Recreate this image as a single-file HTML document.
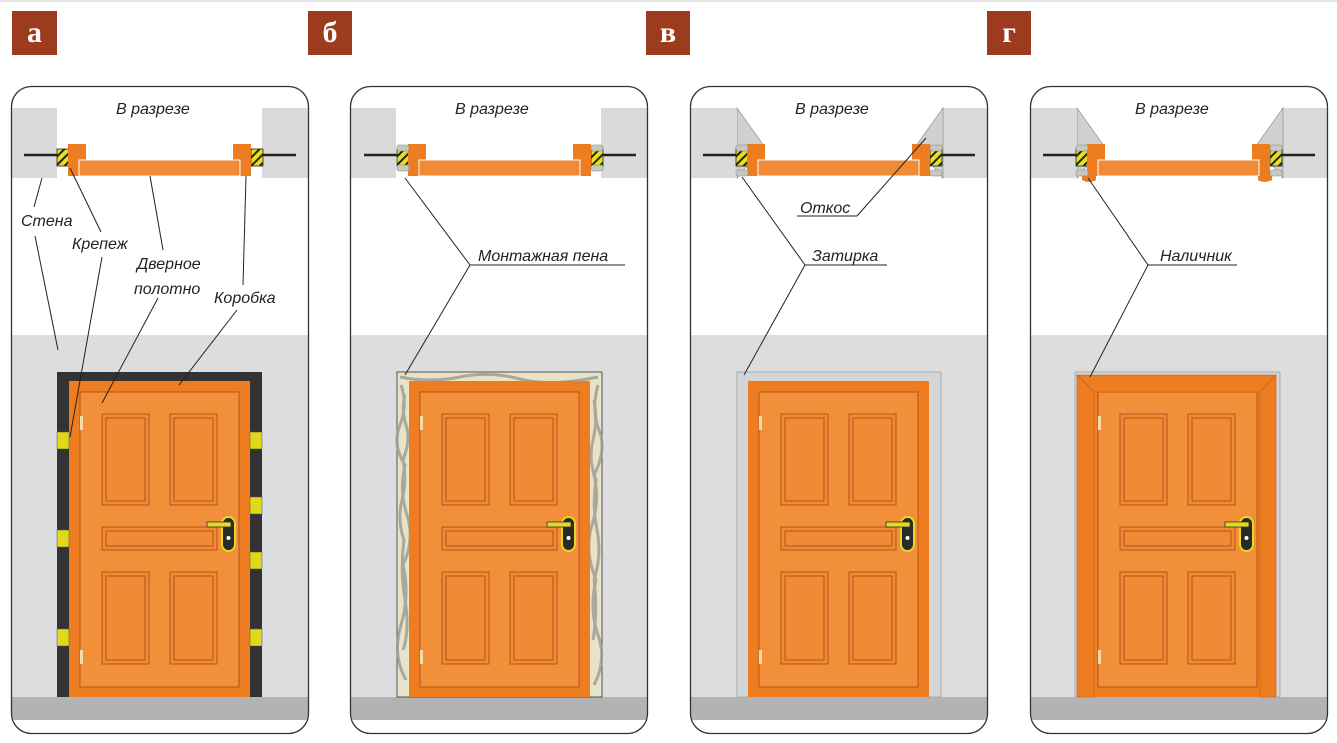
<!DOCTYPE html>
<html><head><meta charset="utf-8"><style>
html,body{margin:0;padding:0;background:#fff;}
svg{display:block;}
text{font-family:"Liberation Sans",sans-serif;font-style:italic;font-size:16px;fill:#222;}
.bd{font-family:"Liberation Serif",serif;font-style:normal;font-weight:bold;font-size:30px;fill:#fff;}
</style></head><body>
<svg width="1337" height="743" viewBox="0 0 1337 743" xmlns="http://www.w3.org/2000/svg">
<defs>
<pattern id="hatch" width="6" height="6" patternUnits="userSpaceOnUse" patternTransform="rotate(45)">
<rect width="6" height="6" fill="#e8e01a"/><rect width="2" height="6" fill="#222"/>
</pattern>
<clipPath id="pc"><rect x="12" y="87" width="296" height="646" rx="20"/></clipPath>
<g id="base">
<g clip-path="url(#pc)">
<rect x="12" y="87" width="296" height="646" fill="#fff"/>
<rect x="12" y="108" width="45" height="70" fill="#dadada"/>
<rect x="262" y="108" width="46" height="70" fill="#dadada"/>
<rect x="12" y="335" width="296" height="362" fill="#dcdddf"/>
<rect x="12" y="697" width="296" height="23" fill="#b1b3b5"/>
</g>
<rect x="11.5" y="86.5" width="297" height="647" rx="20" fill="none" stroke="#333" stroke-width="1.3"/>
<text x="116" y="114">В разрезе</text>
</g>
<g id="door">
<rect x="69" y="381" width="181" height="316" fill="#ee7d22"/>
<rect x="80" y="392" width="159" height="295" fill="#f29039" stroke="#b5521a" stroke-width="1"/>
<g fill="#f08a35" stroke="#b5521a" stroke-width="1">
<rect x="102" y="414" width="47" height="91"/><rect x="106" y="418" width="39" height="83"/>
<rect x="170" y="414" width="47" height="91"/><rect x="174" y="418" width="39" height="83"/>
<rect x="102" y="527" width="115" height="23"/><rect x="106" y="531" width="107" height="15"/>
<rect x="102" y="572" width="47" height="92"/><rect x="106" y="576" width="39" height="84"/>
<rect x="170" y="572" width="47" height="92"/><rect x="174" y="576" width="39" height="84"/>
</g>
<rect x="80" y="416" width="3" height="14" fill="#f5dca8"/>
<rect x="80" y="650" width="3" height="14" fill="#f5dca8"/>
<rect x="222" y="517" width="13" height="34" rx="6.5" fill="#2a2a2a" stroke="#e8d820" stroke-width="2"/>
<rect x="207" y="522" width="24" height="5" fill="#e8d820" stroke="#333" stroke-width="0.8"/>
<circle cx="228.5" cy="538" r="2" fill="#fff"/>
</g>
<g id="sec">
<line x1="24" y1="155" x2="58" y2="155" stroke="#222" stroke-width="2.5"/>
<line x1="262" y1="155" x2="296" y2="155" stroke="#222" stroke-width="2.5"/>
<rect x="57" y="149" width="12" height="17" fill="url(#hatch)" stroke="#222" stroke-width="0.8"/>
<rect x="251" y="149" width="12" height="17" fill="url(#hatch)" stroke="#222" stroke-width="0.8"/>
<rect x="68" y="144" width="18" height="32" fill="#ee7d22"/>
<rect x="233" y="144" width="18" height="32" fill="#ee7d22"/>
<rect x="79" y="160" width="161" height="16" fill="#f08a35" stroke="#fff" stroke-width="1"/>
</g>
<g id="slope">
<polygon points="737,108 764,146 737,178" fill="#d0d0d0" stroke="#999" stroke-width="0.8"/>
<polygon points="943,108 916,146 943,178" fill="#d0d0d0" stroke="#999" stroke-width="0.8"/>
</g>
</defs>
<line x1="0" y1="1" x2="1337" y2="1" stroke="#e6e6e6" stroke-width="2"/>

<!-- badges -->
<rect x="12" y="11" width="45" height="44" fill="#9c3b1e"/><text class="bd" x="34.5" y="42" text-anchor="middle">а</text>
<rect x="308" y="11" width="44" height="44" fill="#9c3b1e"/><text class="bd" x="330" y="42" text-anchor="middle">б</text>
<rect x="646" y="11" width="44" height="44" fill="#9c3b1e"/><text class="bd" x="668" y="42" text-anchor="middle">в</text>
<rect x="987" y="11" width="44" height="44" fill="#9c3b1e"/><text class="bd" x="1009" y="42" text-anchor="middle">г</text>

<!-- Panel a -->
<use href="#base"/>
<rect x="57" y="372" width="205" height="325" fill="#333"/>
<use href="#door"/>
<g fill="#e0d818" stroke="#555" stroke-width="0.5">
<rect x="57" y="432" width="12" height="17"/><rect x="57" y="530" width="12" height="17"/><rect x="57" y="629" width="12" height="17"/>
<rect x="250" y="432" width="12" height="17"/><rect x="250" y="497" width="12" height="17"/><rect x="250" y="552" width="12" height="17"/><rect x="250" y="629" width="12" height="17"/>
</g>
<use href="#sec"/>
<text x="21" y="226">Стена</text>
<text x="72" y="249">Крепеж</text>
<text x="137" y="269">Дверное</text>
<text x="134" y="294">полотно</text>
<text x="214" y="303">Коробка</text>
<g stroke="#222" stroke-width="1" fill="none">
<line x1="42" y1="178" x2="34" y2="207"/><line x1="35" y1="236" x2="58" y2="350"/>
<line x1="70" y1="168" x2="101" y2="232"/><line x1="102" y1="257" x2="70" y2="437"/>
<line x1="150" y1="176" x2="163" y2="250"/><line x1="158" y1="298" x2="102" y2="403"/>
<line x1="246" y1="176" x2="243" y2="285"/><line x1="237" y1="310" x2="179" y2="385"/>
</g>

<!-- Panel б -->
<use href="#base" x="339"/>
<rect x="397" y="372" width="205" height="325" fill="#e6e3c8" stroke="#333" stroke-width="0.8"/>
<g stroke="#9a9a90" stroke-width="3" fill="none" opacity="0.8">
<path d="M401,385 q7,20 -1,40 t5,40 q-6,25 2,50 t-4,50 q7,30 -2,60 t5,55"/>
<path d="M405,395 q-4,15 1,30 t-3,35 q4,20 -1,40 t2,40 q-4,30 1,60 t-2,50"/>
<path d="M598,385 q-7,25 1,45 t-5,45 q6,25 -2,50 t4,55 q-7,30 2,55 t-4,50"/>
<path d="M594,400 q4,20 -1,40 t3,40 q-4,25 1,50 t-3,50 q4,30 -1,60"/>
<path d="M400,377 q30,6 60,0 t60,2 t78,-2"/>
</g>
<use href="#door" x="340"/>
<use href="#sec" x="340"/>
<g fill="#c8c8c0" stroke="#888" stroke-width="0.6"><rect x="397" y="145" width="12" height="6" rx="2"/><rect x="397" y="165" width="12" height="6" rx="2"/><rect x="591" y="145" width="12" height="6" rx="2"/><rect x="591" y="165" width="12" height="6" rx="2"/></g>
<text x="478" y="261">Монтажная пена</text>
<g stroke="#222" stroke-width="1" fill="none">
<line x1="470" y1="265" x2="625" y2="265"/>
<line x1="470" y1="265" x2="405" y2="178"/><line x1="470" y1="265" x2="405" y2="375"/>
</g>

<!-- Panel в -->
<use href="#base" x="679"/>
<use href="#slope"/>
<rect x="737" y="372" width="204" height="325" fill="#d4d5d7" stroke="#aaa" stroke-width="1"/>
<use href="#door" x="679"/>
<use href="#sec" x="679"/>
<g fill="#c8c8c0" stroke="#888" stroke-width="0.6"><rect x="736" y="145" width="12" height="6" rx="2"/><rect x="736" y="170" width="12" height="6" rx="2"/><rect x="930" y="145" width="12" height="6" rx="2"/><rect x="930" y="170" width="12" height="6" rx="2"/></g>
<text x="800" y="213">Откос</text>
<text x="812" y="261">Затирка</text>
<g stroke="#222" stroke-width="1" fill="none">
<line x1="797" y1="216" x2="857" y2="216"/><line x1="857" y1="216" x2="926" y2="138"/>
<line x1="805" y1="265" x2="887" y2="265"/>
<line x1="805" y1="265" x2="742" y2="177"/><line x1="805" y1="265" x2="744" y2="375"/>
</g>

<!-- Panel г -->
<use href="#base" x="1019"/>
<use href="#slope" x="340"/>
<rect x="1075" y="372" width="205" height="325" fill="#d4d5d7" stroke="#aaa" stroke-width="1"/>
<use href="#door" x="1018"/>
<polygon points="1077,375 1276,375 1276,697 1260,697 1260,392 1094,392 1094,697 1077,697" fill="#ee7d22" stroke="#c0601a" stroke-width="0.6"/>
<line x1="1077" y1="375" x2="1094" y2="392" stroke="#c0601a" stroke-width="0.8"/>
<line x1="1276" y1="375" x2="1260" y2="392" stroke="#c0601a" stroke-width="0.8"/>
<use href="#sec" x="1019"/>
<g fill="#c8c8c0" stroke="#888" stroke-width="0.6"><rect x="1076" y="145" width="12" height="6" rx="2"/><rect x="1076" y="170" width="12" height="6" rx="2"/><rect x="1270" y="145" width="12" height="6" rx="2"/><rect x="1270" y="170" width="12" height="6" rx="2"/></g>
<path d="M1082,176 h14 v4 q-7,4 -14,0 z" fill="#ee7d22"/>
<path d="M1258,176 h14 v4 q-7,4 -14,0 z" fill="#ee7d22"/>
<text x="1160" y="261">Наличник</text>
<g stroke="#222" stroke-width="1" fill="none">
<line x1="1148" y1="265" x2="1237" y2="265"/>
<line x1="1148" y1="265" x2="1088" y2="178"/><line x1="1148" y1="265" x2="1090" y2="377"/>
</g>
</svg>
</body></html>
